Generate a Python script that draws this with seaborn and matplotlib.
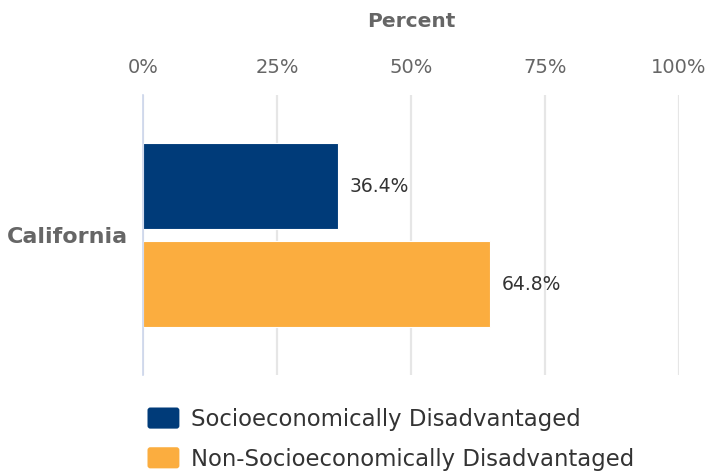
import pandas as pd
import matplotlib.pyplot as plt
import seaborn as sns
from matplotlib.patches import FancyBboxPatch
from matplotlib.legend_handler import HandlerPatch

# Dados do gráfico
regioes = ['California']
grupos = ['Socioeconomically Disadvantaged', 'Non-Socioeconomically Disadvantaged']
valores = [36.4, 64.8]
cores = ['#003b79', '#fbad3f']
ticks = [0, 25, 50, 75, 100]

df = pd.DataFrame({'Regiao': regioes * len(grupos), 'Grupo': grupos, 'Percent': valores})

sns.set_style('white')
fig = plt.figure(figsize=(7.08, 4.75), dpi=100)
ax = fig.add_axes([143 / 708, 1 - 375 / 475, 536 / 708, 280 / 475])

sns.barplot(data=df, x='Percent', y='Regiao', hue='Grupo', hue_order=grupos,
            palette=cores, saturation=1, orient='h', width=0.7, gap=0.122,
            edgecolor='white', linewidth=0.8, legend=False, ax=ax)

ax.set_xlim(0, 100)
ax.set_ylim(0.5, -0.5)
ax.set_xticks(ticks)
ax.set_xticklabels([f'{t}%' for t in ticks])
ax.xaxis.tick_top()
ax.xaxis.set_label_position('top')
ax.set_xlabel('Percent', fontsize=14.5, fontweight='bold', color='#666666', labelpad=22)
ax.set_ylabel('')
ax.tick_params(axis='x', length=0, pad=13, labelsize=14, labelcolor='#666666')
ax.tick_params(axis='y', length=0, pad=11, labelsize=16, labelcolor='#666666')
for lbl in ax.get_yticklabels():
    lbl.set_fontweight('bold')

# Grade vertical
ax.grid(axis='x', color='#e6e6e6', linewidth=1.6)
ax.set_axisbelow(True)
for s in ['top', 'right', 'bottom']:
    ax.spines[s].set_visible(False)
ax.spines['left'].set_color('#ccd6eb')
ax.spines['left'].set_linewidth(1.2)

# Rótulos das barras
for cont in ax.containers:
    ax.bar_label(cont, labels=[f'{v:.1f}%' for v in cont.datavalues],
                 padding=8, fontsize=13.5, color='#333333')

# Legenda com quadrados arredondados
class HandlerRound(HandlerPatch):
    def create_artists(self, legend, orig_handle, xdescent, ydescent, width, height, fontsize, trans):
        p = FancyBboxPatch((-xdescent + 2, -ydescent + 2), width - 4, height - 4,
                           boxstyle='round,pad=2', facecolor=orig_handle.get_facecolor(),
                           edgecolor='none', transform=trans)
        return [p]

handles = [plt.Rectangle((0, 0), 1, 1, facecolor=c) for c in cores]
fig.legend(handles, grupos, loc='upper left', bbox_to_anchor=(127 / 708, 1 - 387 / 475),
           frameon=False, fontsize=16.4, labelcolor='#333333',
           handlelength=1.4, handleheight=1.05, handletextpad=0.5, labelspacing=0.72,
           handler_map={plt.Rectangle: HandlerRound()})

plt.savefig('out.png', dpi=100)
